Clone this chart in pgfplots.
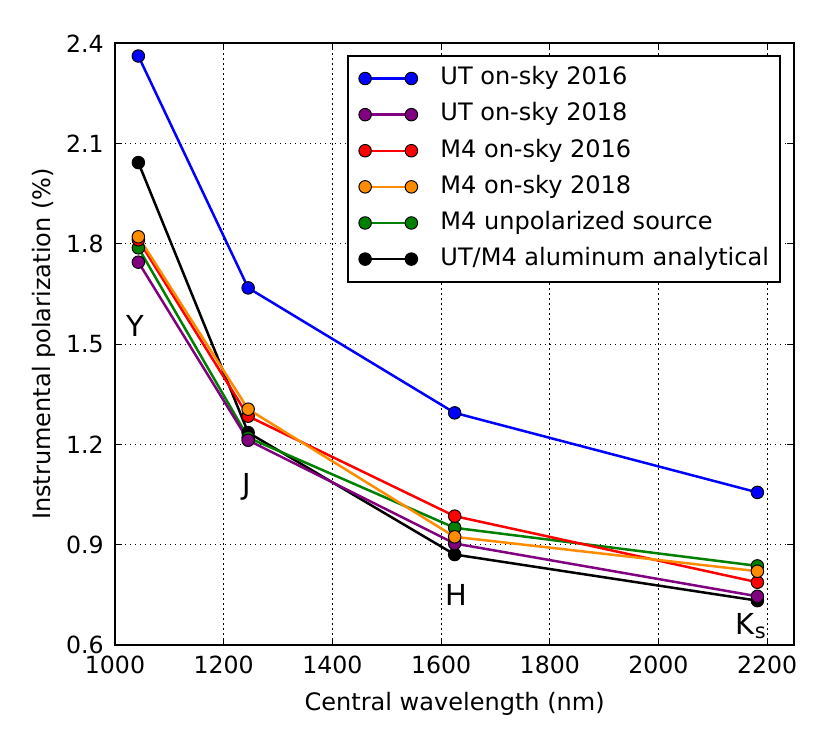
\documentclass[border=0pt]{standalone}
\usepackage{fontspec}
\setmainfont{DejaVu Sans}
\usepackage{pgfplots}
\pgfplotsset{compat=1.18}
\definecolor{mpurple}{rgb}{0.5,0,0.5}
\definecolor{morange}{rgb}{1,0.549,0}
\definecolor{mgreen}{rgb}{0,0.5,0}
\pgfplotsset{ser/.style={color=#1, line width=1.8pt, mark=*, mark size=4.5pt,
  mark options={solid, fill=#1, draw=black, line width=0.7pt}}}
\begin{document}
\begin{tikzpicture}
\begin{axis}[
  name=ax, scale only axis, width=489.1pt, height=433pt,
  xmin=1000, xmax=2250, ymin=0.6, ymax=2.4,
  xtick={1000,1200,1400,1600,1800,2000,2200},
  ytick={0.6,0.9,1.2,1.5,1.8,2.1,2.4},
  /pgf/number format/assume math mode=true,
  /pgf/number format/1000 sep={},
  yticklabel style={/pgf/number format/fixed, /pgf/number format/fixed zerofill, /pgf/number format/precision=1},
  tick label style={font=\fontsize{17}{20.4}\selectfont},
  xticklabel style={anchor=base, inner sep=0pt, yshift=-20.6pt},
  yticklabel style={anchor=east, inner sep=0pt, xshift=-7.9pt},
  label style={font=\fontsize{17.3}{20.8}\selectfont},
  xlabel={Central wavelength (nm)},
  ylabel={Instrumental polarization (\%)},
  xlabel style={at={(axis description cs:0.5,-0.1087)}, anchor=base, inner sep=0pt},
  ylabel style={at={(axis description cs:-0.0956,0.5)}, anchor=base, inner sep=0pt},
  axis line style={line width=1.4pt},
  grid=major,
  major grid style={black, line width=0.5pt, dash pattern=on 1pt off 2.6pt},
  tick align=inside, major tick length=5pt, tick style={black, line width=0.6pt},
  xticklabel pos=lower, yticklabel pos=left, xtick pos=both, ytick pos=both,
  legend image code/.code={\draw plot coordinates {(0pt,0pt) (33.3pt,0pt)};},
  legend cell align=left,
  legend style={at={(axis description cs:0.9804,0.9812)}, anchor=north east,
    draw=black, line width=1.4pt, font=\fontsize{17.3}{20.8}\selectfont,
    inner xsep=8pt, inner ysep=8.5pt, row sep=10pt, column sep=16.4pt,
    nodes={inner sep=0pt, text height=12.5pt, text depth=3.5pt}},
]
\addlegendimage{ser=blue}\addlegendentry{UT on-sky 2016}
\addlegendimage{ser=mpurple}\addlegendentry{UT on-sky 2018}
\addlegendimage{ser=red}\addlegendentry{M4 on-sky 2016}
\addlegendimage{ser=morange}\addlegendentry{M4 on-sky 2018}
\addlegendimage{ser=mgreen}\addlegendentry{M4 unpolarized source}
\addlegendimage{ser=black}\addlegendentry{UT/M4 aluminum analytical}

\addplot[ser=black, forget plot] coordinates {(1043,2.043) (1245,1.235) (1625,0.870) (2182,0.732)};
\addplot[ser=mgreen, forget plot] coordinates {(1043,1.788) (1245,1.220) (1625,0.950) (2182,0.836)};
\addplot[ser=blue, forget plot] coordinates {(1043,2.362) (1245,1.668) (1625,1.294) (2182,1.056)};
\addplot[ser=mpurple, forget plot] coordinates {(1043,1.745) (1245,1.212) (1625,0.903) (2182,0.745)};
\addplot[ser=red, forget plot] coordinates {(1043,1.812) (1245,1.284) (1625,0.985) (2182,0.787)};
\addplot[ser=morange, forget plot] coordinates {(1043,1.821) (1245,1.305) (1625,0.923) (2182,0.820)};

\node[font=\fontsize{20.8}{24}\selectfont, anchor=base, inner sep=0pt] at (axis cs:1037,1.522) {Y};
\node[font=\fontsize{20.8}{24}\selectfont, anchor=base, inner sep=0pt] at (axis cs:1243,1.049) {J};
\node[font=\fontsize{20.8}{24}\selectfont, anchor=base, inner sep=0pt] at (axis cs:1628.6,0.717) {H};
\node[font=\fontsize{20.8}{24}\selectfont, anchor=base west, inner sep=0pt] at (axis cs:2142,0.63) {K\raisebox{-3pt}{\fontsize{15}{18}\selectfont s}};
\end{axis}
\pgfresetboundingbox
\path ([shift={(-82.8pt,-70.8pt)}]ax.south west) rectangle ([shift={(26.4pt,31.2pt)}]ax.north east);
\end{tikzpicture}
\end{document}
